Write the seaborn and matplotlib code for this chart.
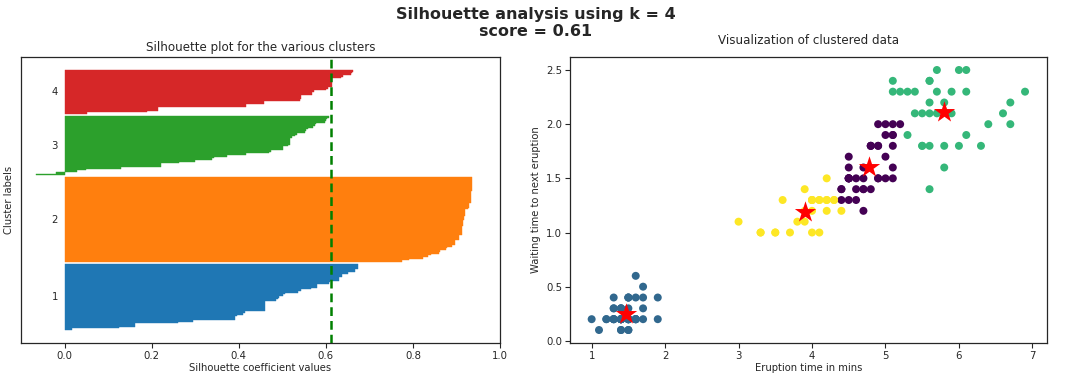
import numpy as np
import pandas as pd
import matplotlib
matplotlib.use("Agg")
import matplotlib.pyplot as plt
import seaborn as sns

# ---- data: iris petal measurements as shown in the scatter ----
petal_length = [
    1.4, 1.4, 1.3, 1.5, 1.4, 1.7, 1.4, 1.5, 1.4, 1.5, 1.5, 1.6, 1.4, 1.1, 1.2, 1.5, 1.3, 1.4, 1.7, 1.5,
    1.7, 1.5, 1.0, 1.7, 1.9, 1.6, 1.6, 1.5, 1.4, 1.6, 1.6, 1.5, 1.5, 1.4, 1.5, 1.2, 1.3, 1.4, 1.3, 1.5,
    1.3, 1.3, 1.3, 1.6, 1.9, 1.4, 1.6, 1.4, 1.5, 1.4,
    4.7, 4.5, 4.9, 4.0, 4.6, 4.5, 4.7, 3.3, 4.6, 3.9, 3.5, 4.2, 4.0, 4.7, 3.6, 4.4, 4.5, 4.1, 4.5, 3.9,
    4.8, 4.0, 4.9, 4.7, 4.3, 4.4, 4.8, 5.0, 4.5, 3.5, 3.8, 3.7, 3.9, 5.1, 4.5, 4.5, 4.7, 4.4, 4.1, 4.0,
    4.4, 4.6, 4.0, 3.3, 4.2, 4.2, 4.2, 4.3, 3.0, 4.1,
    6.0, 5.1, 5.9, 5.6, 5.8, 6.6, 4.5, 6.3, 5.8, 6.1, 5.1, 5.3, 5.5, 5.0, 5.1, 5.3, 5.5, 6.7, 6.9, 5.0,
    5.7, 4.9, 6.7, 4.9, 5.7, 6.0, 4.8, 4.9, 5.6, 5.8, 6.1, 6.4, 5.6, 5.1, 5.6, 6.1, 5.6, 5.5, 4.8, 5.4,
    5.6, 5.1, 5.1, 5.9, 5.7, 5.2, 5.0, 5.2, 5.4, 5.1,
]
petal_width = [
    0.2, 0.2, 0.2, 0.2, 0.2, 0.4, 0.3, 0.2, 0.2, 0.1, 0.2, 0.2, 0.1, 0.1, 0.2, 0.4, 0.4, 0.3, 0.3, 0.3,
    0.2, 0.4, 0.2, 0.5, 0.2, 0.2, 0.4, 0.2, 0.2, 0.2, 0.2, 0.4, 0.1, 0.2, 0.2, 0.2, 0.2, 0.1, 0.2, 0.2,
    0.3, 0.3, 0.2, 0.6, 0.4, 0.3, 0.2, 0.2, 0.2, 0.2,
    1.4, 1.5, 1.5, 1.3, 1.5, 1.3, 1.6, 1.0, 1.3, 1.4, 1.0, 1.5, 1.0, 1.4, 1.3, 1.4, 1.5, 1.0, 1.5, 1.1,
    1.8, 1.3, 1.5, 1.2, 1.3, 1.4, 1.4, 1.7, 1.5, 1.0, 1.1, 1.0, 1.2, 1.6, 1.5, 1.6, 1.5, 1.3, 1.3, 1.3,
    1.2, 1.4, 1.2, 1.0, 1.3, 1.2, 1.3, 1.3, 1.1, 1.3,
    2.5, 1.9, 2.1, 1.8, 2.2, 2.1, 1.7, 1.8, 1.8, 2.5, 2.0, 1.9, 2.1, 2.0, 2.4, 2.3, 1.8, 2.2, 2.3, 1.5,
    2.3, 2.0, 2.0, 1.8, 2.1, 1.8, 1.8, 1.8, 2.1, 1.6, 1.9, 2.0, 2.2, 1.5, 1.4, 2.3, 2.4, 1.8, 1.8, 2.1,
    2.4, 2.3, 1.9, 2.3, 2.5, 2.3, 1.9, 2.0, 2.3, 1.8,
]
# approximate cluster centres (red stars), labels 0..3
centre_x = [4.77, 1.46, 5.80, 3.92]
centre_y = [1.60, 0.25, 2.10, 1.20]
k = 4
cluster_names = ["1", "2", "3", "4"]
sil_colors = ["#1f77b4", "#ff7f0e", "#2ca02c", "#d62728"]
scatter_colors = ["#440154", "#31688e", "#35b779", "#fde725"]

# ---- clustering (Lloyd refinement from the read centres) and silhouette ----
X = np.column_stack([petal_length, petal_width])
C = np.column_stack([centre_x, centre_y])
for _ in range(50):
    d = ((X[:, None, :] - C[None, :, :]) ** 2).sum(-1)
    labels = d.argmin(1)
    newC = np.array([X[labels == j].mean(0) for j in range(k)])
    if np.allclose(newC, C):
        break
    C = newC

D = np.sqrt(((X[:, None, :] - X[None, :, :]) ** 2).sum(-1))
sil = np.zeros(len(X))
for i in range(len(X)):
    own = labels == labels[i]
    a = D[i, own].sum() / max(own.sum() - 1, 1)
    b = min(D[i, labels == j].mean() for j in range(k) if j != labels[i])
    sil[i] = (b - a) / max(a, b)
avg = sil.mean()

# ---- figure ----
sns.set_style("ticks")
plt.rcParams["font.family"] = ["DejaVu Sans"]
fig = plt.figure(figsize=(10.72, 3.81), dpi=100)
ax1 = fig.add_axes([0.0196, 0.0997, 0.4468, 0.7507])
ax2 = fig.add_axes([0.5317, 0.0997, 0.4447, 0.7507])

y_lower = 0
for j in range(k):
    vals = np.sort(sil[labels == j])
    size = len(vals)
    rows = np.arange(y_lower, y_lower + size)
    ys = np.column_stack([rows, rows + 1]).ravel()
    xs = np.repeat(vals, 2)
    poly_x = np.concatenate([[0.0], xs, [0.0]])
    poly_y = np.concatenate([[y_lower], ys, [y_lower + size]])
    ax1.fill(poly_x, poly_y, facecolor=sil_colors[j], edgecolor=sil_colors[j], linewidth=0.3)
    ax1.text(-0.03, y_lower + 0.5 * size, cluster_names[j], fontsize=7.3, va="center")
    y_lower = y_lower + size + 1
ax1.axvline(avg, color="green", linestyle="--", linewidth=1.8, dashes=(3.5, 2))
ax1.set_xlim(-0.1, 1.0)
ax1.set_yticks([])
ax1.set_xticks([0, 0.2, 0.4, 0.6, 0.8, 1.0])
ax1.set_xlabel("Silhouette coefficient values", fontsize=7.2, labelpad=2)
ax1.set_ylabel("Cluster labels", fontsize=7.2, labelpad=5)
ax1.set_title("Silhouette plot for the various clusters", fontsize=8.6, pad=4)

df = pd.DataFrame({"x": petal_length, "y": petal_width, "cluster": labels})
sns.scatterplot(data=df, x="x", y="y", hue="cluster", palette=scatter_colors,
                s=33, linewidth=0, legend=False, ax=ax2)
cdf = pd.DataFrame({"x": C[:, 0], "y": C[:, 1]})
sns.scatterplot(data=cdf, x="x", y="y", marker="*", s=260, color="red",
                edgecolor="red", linewidth=0, ax=ax2, legend=False)
ax2.set_xlabel("Eruption time in mins", fontsize=7.2, labelpad=2)
ax2.set_ylabel("Waiting time to next eruption", fontsize=7.2, labelpad=4)
ax2.set_title("Visualization of clustered data", fontsize=8.6, pad=9)

for ax in (ax1, ax2):
    ax.tick_params(labelsize=7.3, length=3.5, width=0.8, pad=2)
    for s in ax.spines.values():
        s.set_linewidth(0.9)
        s.set_color("#262626")

fig.suptitle(f"Silhouette analysis using k = {k}\nscore = {avg:.2f}",
             fontsize=11.5, fontweight="bold", y=0.982, linespacing=1.2)
fig.savefig("out.png", dpi=100, facecolor="white")
